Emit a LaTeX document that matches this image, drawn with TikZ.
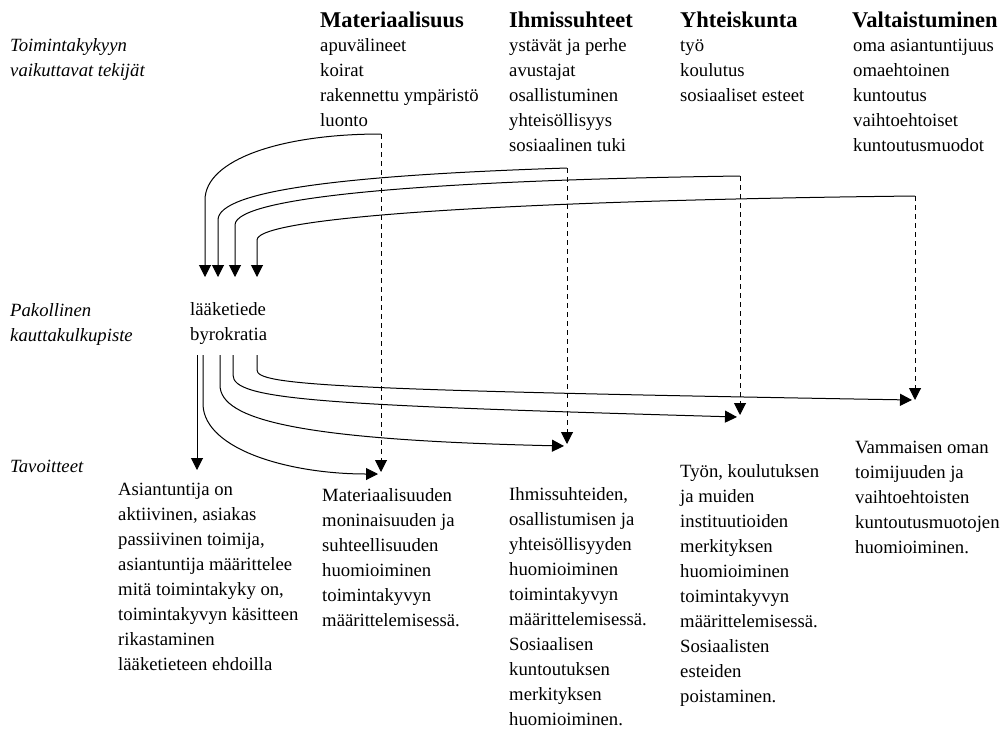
\documentclass[tikz,border=0pt]{standalone}
\usepackage{fontspec}
\setmainfont{Liberation Serif}
\usetikzlibrary{arrows.meta}
\tikzset{
  txt/.style={anchor=base west, inner sep=0pt, align=left, font=\fontsize{18.7}{25}\selectfont},
  lbl/.style={txt, font=\fontsize{18.7}{25}\selectfont\itshape},
  head/.style={anchor=base west, inner sep=0pt, font=\fontsize{22.5}{25}\selectfont\bfseries},
  arr/.style={line width=1pt, -{Triangle[length=12pt,width=12pt]}},
  dsh/.style={arr, dash pattern=on 5pt off 4pt},
}
\begin{document}
\begin{tikzpicture}[x=1pt,y=-1pt]
        \useasboundingbox (0,0) rectangle (1006,731);
        % left labels (base = last line)
        \node[lbl] (tekijat) at (10,76) {Toimintakykyyn\\vaikuttavat tekijät};
        \node[lbl] (piste) at (10,341) {Pakollinen\\kauttakulkupiste};
        \node[lbl] (tavoite) at (10,472) {Tavoitteet};
        % headings and factors
        \node[head] (mat) at (320,27) {Materiaalisuus};
        \node[head] (ihm) at (509,27) {Ihmissuhteet};
        \node[head] (yht) at (680,27) {Yhteiskunta};
        \node[head] (val) at (852,27) {Valtaistuminen};
        \node[txt] (matl) at (320,126) {apuvälineet\\koirat\\rakennettu ympäristö\\luonto};
        \node[txt] (ihml) at (509,151) {ystävät ja perhe\\avustajat\\osallistuminen\\yhteisöllisyys\\sosiaalinen tuki};
        \node[txt] (yhtl) at (680,101) {työ\\koulutus\\sosiaaliset esteet};
        \node[txt] (vall) at (853,151) {oma asiantuntijuus\\omaehtoinen\\kuntoutus\\vaihtoehtoiset\\kuntoutusmuodot};
        \node[txt] (pakko) at (190,340) {lääketiede\\byrokratia};
        % goals
        \node[txt] (t0) at (118,670) {Asiantuntija on\\aktiivinen, asiakas\\passiivinen toimija,\\asiantuntija määrittelee\\mitä toimintakyky on,\\toimintakyvyn käsitteen\\rikastaminen\\lääketieteen ehdoilla};
        \node[txt] (t1) at (322,626) {Materiaalisuuden\\moninaisuuden ja\\suhteellisuuden\\huomioiminen\\toimintakyvyn\\määrittelemisessä.};
        \node[txt] (t2) at (509,725) {Ihmissuhteiden,\\osallistumisen ja\\yhteisöllisyyden\\huomioiminen\\toimintakyvyn\\määrittelemisessä.\\Sosiaalisen\\kuntoutuksen\\merkityksen\\huomioiminen.};
        \node[txt] (t3) at (680,702) {Työn, koulutuksen\\ja muiden\\instituutioiden\\merkityksen\\huomioiminen\\toimintakyvyn\\määrittelemisessä.\\Sosiaalisten\\esteiden\\poistaminen.};
        \node[txt] (t4) at (855,553) {Vammaisen oman\\toimijuuden ja\\vaihtoehtoisten\\kuntoutusmuotojen\\huomioiminen.};
        % corners and tips
        \coordinate (m1) at (381,134);
        \coordinate (i1) at (567,168);
        \coordinate (y1) at (740,176);
        \coordinate (v1) at (915,196);
        \coordinate (m2) at (381,472);
        \coordinate (i2) at (567,444);
        \coordinate (y2) at (740,415);
        \coordinate (v2) at (915,400);
        \coordinate (e1) at (378,474);
        \coordinate (e2) at (564,446);
        \coordinate (e3) at (737,417);
        \coordinate (e4) at (912,400);
        \coordinate (p1) at (205,277);
        \coordinate (p2) at (218,277);
        \coordinate (p3) at (235,277);
        \coordinate (p4) at (257,277);
        \coordinate (q0) at (197,355);
        \coordinate (q1) at (203,355);
        \coordinate (q2) at (220,355);
        \coordinate (q3) at (233,355);
        \coordinate (q4) at (257,355);
        \coordinate (g0) at (197,470);
        % into the passage point
        \draw[arr] (m1) .. controls (280,134) and (205,160) .. (205,200) -- (p1);
        \draw[arr] (i1) .. controls (350,175) and (218,190) .. (218,220) -- (p2);
        \draw[arr] (y1) .. controls (450,180) and (235,195) .. (235,225) -- (p3);
        \draw[arr] (v1) .. controls (550,200) and (257,215) .. (257,240) -- (p4);
        % straight down to the goals
        \draw[dsh] (m1) -- (m2);
        \draw[dsh] (i1) -- (i2);
        \draw[dsh] (y1) -- (y2);
        \draw[dsh] (v1) -- (v2);
        % out of the passage point
        \draw[arr] (q0) -- (g0);
        \draw[arr] (q1) -- (203,405) .. controls (205,450) and (290,474) .. (e1);
        \draw[arr] (q2) -- (220,385) .. controls (220,420) and (300,440) .. (e2);
        \draw[arr] (q3) -- (233,375) .. controls (233,400) and (320,405) .. (e3);
        \draw[arr] (q4) -- (257,370) .. controls (257,385) and (330,390) .. (e4);
\end{tikzpicture}
\end{document}
